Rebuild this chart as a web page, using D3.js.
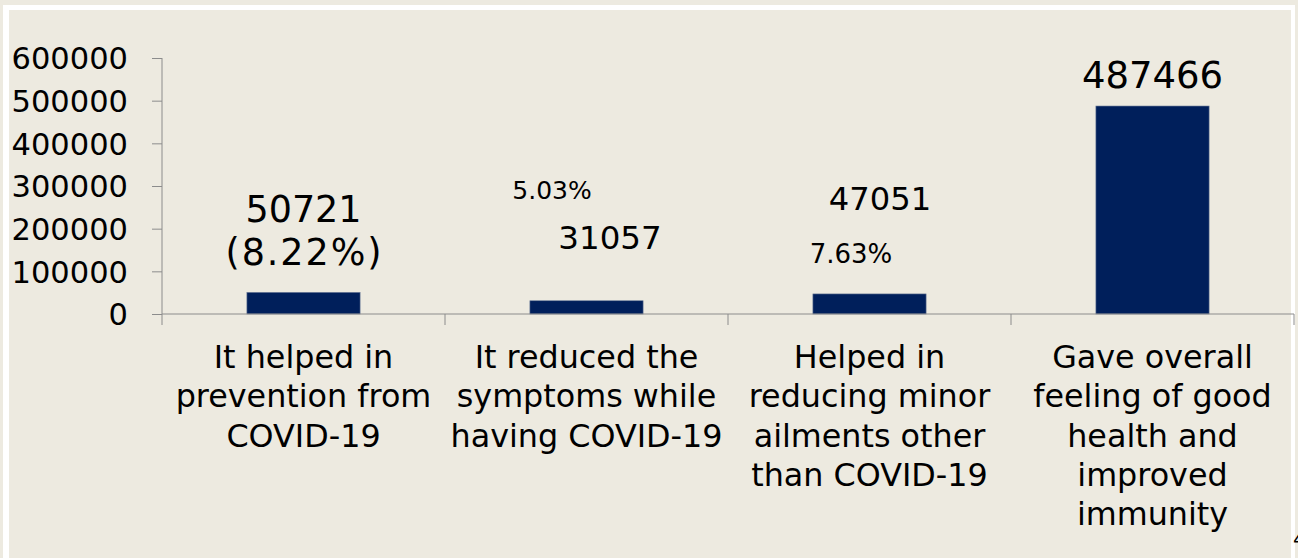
<!DOCTYPE html>
<html>
<head>
<meta charset="utf-8">
<script src="https://cdn.jsdelivr.net/npm/d3@7"></script>
<style>
  body { margin: 0; background: #edeae0; overflow: hidden; }
  text { font-family: "DejaVu Sans", Verdana, sans-serif; fill: #000; }
  .axis path, .axis line { stroke: #8c8c8c; }
</style>
</head>
<body>
<div id="chart"></div>
<script>
// data
const categories = ['prevention', 'symptoms', 'minor', 'overall'];
const categoryLines = [
  ['It helped in', 'prevention from', 'COVID-19'],
  ['It reduced the', 'symptoms while', 'having COVID-19'],
  ['Helped in', 'reducing minor', 'ailments other', 'than COVID-19'],
  ['Gave overall', 'feeling of good', 'health and', 'improved', 'immunity']
];
const counts = [50721, 31057, 47051, 487466];
const percents = ['(8.22%)', '5.03%', '7.63%', null];
const yTicks = [0, 100000, 200000, 300000, 400000, 500000, 600000];

const w = 1298;
const h = 558;

const svg = d3.select('#chart')
              .append('svg')
              .attr('width', w)
              .attr('height', h);

// frame
svg.append('rect')
   .attr('x', 3).attr('y', 5)
   .attr('width', 1292).attr('height', h)
   .attr('fill', '#ffffff');
svg.append('rect')
   .attr('x', 9).attr('y', 10)
   .attr('width', 1282).attr('height', h)
   .attr('fill', '#edeae0');

// scales
const xScale = d3.scaleBand()
                 .domain(categories)
                 .range([162, 1294])
                 .padding(0);

const yScale = d3.scaleLinear()
                 .domain([0, 600000])
                 .range([314, 58]);

const barW = xScale.bandwidth() * 0.4;

// bars
svg.selectAll('rect.bar')
   .data(counts)
   .enter()
   .append('rect')
   .attr('class', 'bar')
   .attr('x', (d, i) => xScale(categories[i]) + (xScale.bandwidth() - barW) / 2)
   .attr('y', d => yScale(d))
   .attr('width', barW)
   .attr('height', d => yScale(0) - yScale(d))
   .attr('fill', '#001f5b')
   .attr('stroke', '#6d7c99')
   .attr('stroke-width', 0.6);

// axes
const yAxis = d3.axisLeft(yScale)
                .tickValues(yTicks)
                .tickSize(10)
                .tickPadding(24)
                .tickFormat(d3.format('d'));

svg.append('g')
   .attr('class', 'axis')
   .attr('transform', 'translate(162, 0)')
   .call(yAxis)
   .call(g => g.select('.domain').attr('d', 'M0,58V325'))
   .call(g => g.selectAll('text').style('font-size', '30.5px').attr('dy', '0.36em'));

const xAxis = svg.append('g').attr('class', 'axis');
xAxis.append('line')
     .attr('x1', 162).attr('x2', 1294)
     .attr('y1', yScale(0)).attr('y2', yScale(0));
xAxis.selectAll('line.tick')
     .data(categories.slice(1).concat(['end']))
     .enter()
     .append('line')
     .attr('class', 'tick')
     .attr('x1', d => d === 'end' ? 1294 : xScale(d))
     .attr('x2', d => d === 'end' ? 1294 : xScale(d))
     .attr('y1', yScale(0))
     .attr('y2', yScale(0) + 11);

// category labels
categoryLines.forEach((lines, i) => {
  const cx = xScale(categories[i]) + xScale.bandwidth() / 2;
  const t = svg.append('text')
               .attr('text-anchor', 'middle')
               .style('font-size', '31.8px');
  lines.forEach((line, j) => {
    t.append('tspan')
     .attr('x', cx)
     .attr('y', 368 + j * 39.3)
     .text(line);
  });
});

// value labels
const cx = i => xScale(categories[i]) + xScale.bandwidth() / 2;

svg.append('text').attr('x', cx(0)).attr('y', 222)
   .attr('text-anchor', 'middle').style('font-size', '36.5px').text(counts[0]);
svg.append('text').attr('x', cx(0)).attr('y', 265)
   .attr('text-anchor', 'middle').style('font-size', '36.5px')
   .attr('textLength', 156).attr('lengthAdjust', 'spacing').text(percents[0]);

svg.append('text').attr('x', 610).attr('y', 249)
   .attr('text-anchor', 'middle').style('font-size', '32.5px').text(counts[1]);
svg.append('text').attr('x', 552).attr('y', 199)
   .attr('text-anchor', 'middle').style('font-size', '25px').text(percents[1]);

svg.append('text').attr('x', 880).attr('y', 210)
   .attr('text-anchor', 'middle').style('font-size', '32.2px').text(counts[2]);
svg.append('text').attr('x', 851).attr('y', 263)
   .attr('text-anchor', 'middle').style('font-size', '26px').text(percents[2]);

svg.append('text').attr('x', cx(3)).attr('y', 88)
   .attr('text-anchor', 'middle').style('font-size', '37px').text(counts[3]);

// clipped page number at the edge
svg.append('text').attr('x', 1293).attr('y', 546)
   .style('font-size', '20px').text('4');
</script>
</body>
</html>
